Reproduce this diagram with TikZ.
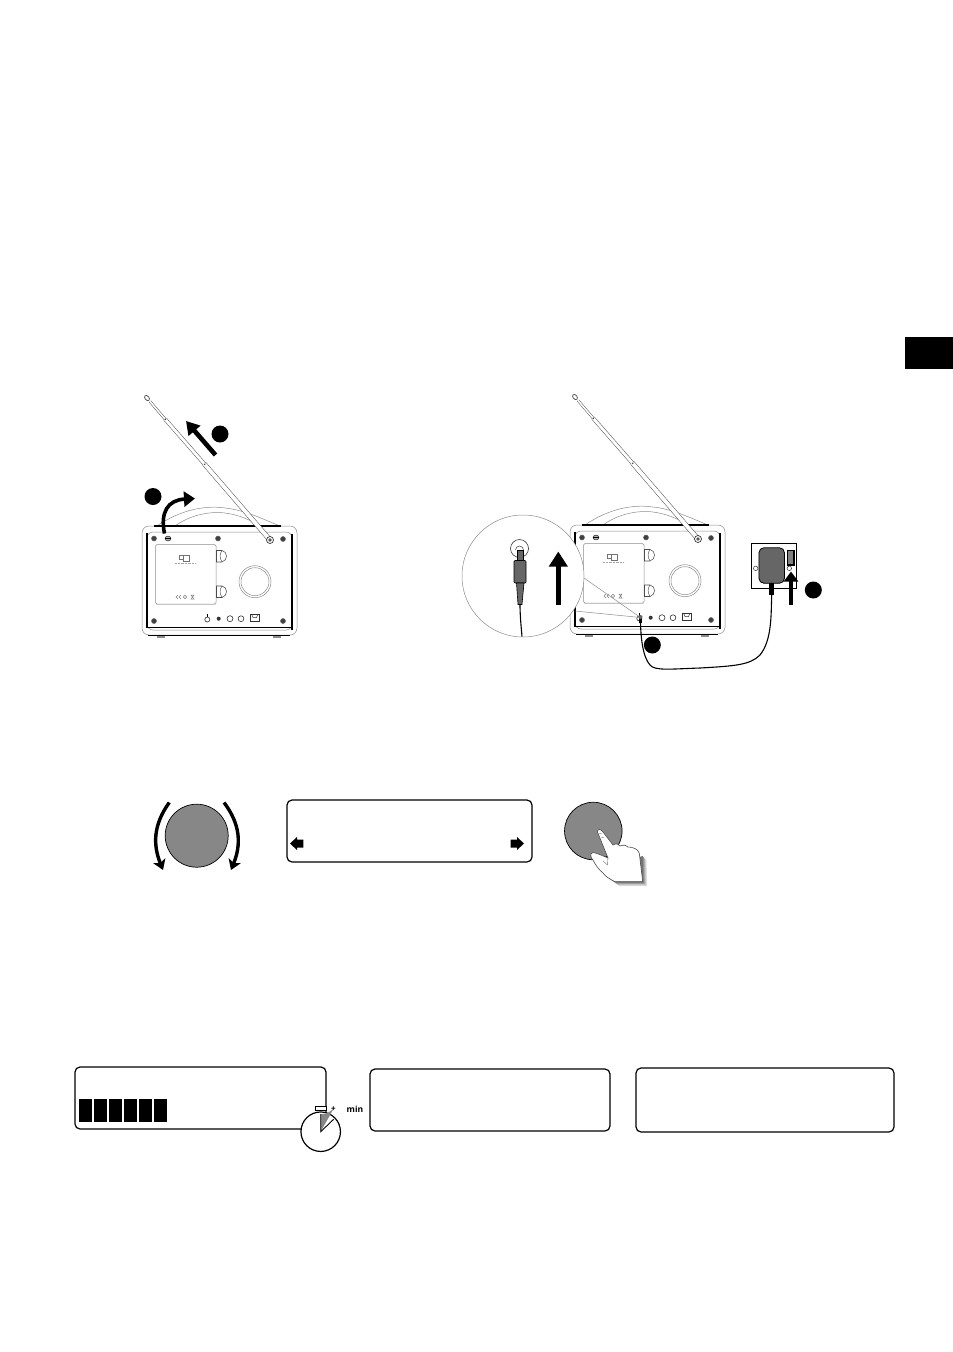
\documentclass[tikz,border=0pt]{standalone}
\usepackage{fontspec}
\setmainfont{Open Sans}
\usetikzlibrary{arrows.meta}
\definecolor{dialgray}{gray}{0.53}
\definecolor{linegray}{gray}{0.55}
\tikzset{
  radioline/.style={draw=linegray,line width=0.5pt},
  blackline/.style={draw=black,line width=1.05pt},
  screw/.style={circle,draw=black!60,fill=black!75,line width=0.5pt,minimum size=5pt,inner sep=0pt},
  ringscrew/.style={circle,draw=black!80,fill=white,line width=0.5pt,minimum size=5pt,inner sep=0pt},
  badge/.style={circle,fill=black,minimum size=17pt,inner sep=0pt},
  displaybox/.style={draw=black,line width=1.2pt,rounded corners=5pt,fill=white,inner sep=0pt},
  dial/.style={circle,draw=black,line width=0.7pt,fill=dialgray,inner sep=0pt},
  bigarrow/.style={line width=4.6pt,-{Triangle[width=15pt,length=13pt]}},
  turnarrow/.style={line width=3.4pt,-{Stealth[width=13pt,length=10pt,inset=2.5pt]}},
  levelbar/.style={fill=black,minimum width=13pt,minimum height=23.5pt,inner sep=0pt},
}
\newcommand{\antennaseg}[3]{\draw[black!70,line width=#3pt] (#1) -- (#2);\draw[white,line width=#3pt-1pt] (#1) -- (#2);}
% #1: horizontal offset of the bottom row of sockets, #2: of the knob
\newcommand{\radioback}[2]{%
  % handle
  \draw[radioline] (157,526) .. controls (180,510) and (205,505) .. (225,508) .. controls (245,510) and (265,520) .. (280,526);
  \draw[radioline] (175,526) .. controls (190,515) and (210,511) .. (225,513) .. controls (240,515) and (250,520) .. (260,526);
  % body
  \fill[white] (142,526) rectangle (297,635);
  \draw[radioline,rounded corners=7pt] (142,526) rectangle (297,635);
  \draw[radioline,rounded corners=6pt] (147,532) rectangle (292,630);
  \draw[blackline] (154,526) -- (281,526);
  \draw[blackline] (148,635.5) -- (290,635.5);
  \draw[blackline] (147,533) -- (147,627.5) -- (292,627.5);
  \draw[blackline] (292,534) -- (292,630);
  \fill[black!45] (157,636) rectangle (165,638.3);
  \fill[black!45] (273,636) rectangle (281,638.3);
  % screws
  \foreach \p/\n in {154/a,218/b}{\node[screw] (scr\n) at (\p,538.5) {};}
  \node[screw] at (154,621) {};
  \node[screw] at (283,621) {};
  \node[screw] at (283,539) {};
  \draw[black!80,line width=0.6pt,fill=black!30] (168,538.5) ellipse (2.9pt and 2.4pt);
  \draw[black,line width=0.6pt] (165.3,538.5) -- (170.7,538.5);
  % panel
  \draw[black!12,line width=1.1pt] (156,604.8) -- (216,604.8);
  \draw[radioline,rounded corners=1.5pt,fill=white] (155.5,544.5) rectangle (216,604);
  % logo and marks on the panel
  \draw[black!55,line width=0.45pt] (179,555.5) rectangle (183,559.5);
  \draw[black!55,line width=0.45pt] (183,555) rectangle (189,561);
  \draw[black!35,line width=0.9pt,dash pattern=on 1pt off 0.4pt] (175,563.5) -- (196,563.5);
  \draw[black!50,line width=0.5pt] (178,595) -- (176,597) -- (178,599) (181,595) -- (179,597) -- (181,599);
  \draw[black!50,line width=0.5pt] (185,597) circle (1.8pt);
  \draw[black!50,line width=0.5pt] (191,595) -- (194,595) -- (191,599) -- (194,599) -- cycle;
  % side connectors
  \foreach \y in {550.5,586}{%
    \draw[black!70,line width=0.55pt,fill=white] (216.5,\y) -- (222,\y) .. controls (228,\y+1) and (228,\y+10) .. (222,\y+11.5) -- (216.5,\y+11.5) -- cycle;
    \draw[black!70,line width=0.45pt] (222,\y) .. controls (219.5,\y+3) and (219.5,\y+8) .. (222,\y+11.5);
  }
  % knob
  \draw[radioline] (255+#2,581.7) circle (16pt);
  \draw[radioline] (255+#2,581.7) circle (14pt);
  % bottom row
  \begin{scope}[xshift=#1pt]
  \draw[black!80,line width=0.6pt] (207.3,619.5) circle (2.5pt);
  \draw[black,line width=1pt] (207.3,614) -- (207.3,617);
  \fill[black!80] (218.7,618.7) circle (2pt);
  \draw[black!80,line width=0.6pt] (230,618.7) circle (3pt);
  \draw[black!80,line width=0.6pt] (241,618.7) circle (2.9pt);
  \draw[black!80,line width=0.6pt] (250,614) rectangle (259.5,621);
  \draw[black!80,line width=0.5pt] (251.5,614) -- (253,617.5) -- (256.5,617.5) -- (258,614);
  \end{scope}
  % antenna
  \antennaseg{270,540}{204.4,464}{4.8}
  \antennaseg{204.4,464}{165,419}{3.8}
  \antennaseg{165,419}{150,401.5}{2.6}
  \draw[black!75,line width=1pt] (204.4,464) -- +(0.7,0.8);
  \draw[black!75,line width=1pt] (165,419) -- +(0.7,0.8);
  \draw[black!70,line width=0.7pt,fill=white,rotate around={-50:(147,398)}] (147,398) ellipse (3pt and 2pt);
  \node[circle,draw=black!80,fill=white,line width=0.7pt,minimum size=7pt,inner sep=0pt] at (270,540) {};
  \fill[black!65] (270,540) circle (1.8pt);
}
\begin{document}
\begin{tikzpicture}[x=1pt,y=-1pt]
\useasboundingbox (0,0) rectangle (953,1352);
\fill[black] (905,337) rectangle (953,369);

% left radio
\radioback{0}{0}
\coordinate (arrowAtail) at (215.5,455);
\coordinate (arrowAtip) at (186,421);
\draw[bigarrow] (arrowAtail) -- (arrowAtip);
\coordinate (latch) at (164.5,533.5);
\coordinate (latchtip) at (195,498.5);
\draw[line width=3.6pt,-{Triangle[width=15pt,length=11pt]}] (latch) .. controls (160,512) and (168,500) .. (latchtip);
\node[badge] (n2) at (220,434) {};
\node[badge] (n1) at (153,496.5) {};

% right radio
\begin{scope}[shift={(428,-1)}]
\radioback{4}{2}
\end{scope}

% magnifier
\coordinate (socket) at (640.5,617.5);
\draw[radioline] (584,578) -- (socket);
\draw[radioline] (575,611) -- (socket);
\node[circle,draw=linegray,fill=white,line width=0.5pt,minimum size=122pt,inner sep=0pt] (lens) at (523,576) {};
\draw[black!80,line width=0.6pt] (519.5,548.5) circle (9pt);
\draw[black!80,line width=0.5pt] (515.5,550) arc[start angle=180,end angle=0,radius=4pt];
\draw[black,line width=0.5pt,fill=black!60] (517.3,550) rectangle (523.3,560.5);
\draw[black,line width=0.7pt,fill=black!60,rounded corners=1pt] (514,560.5) rectangle (526,583);
\draw[black,line width=0.6pt,fill=black!60] (516.5,583) -- (524,583) -- (522,604.5) -- (518,604.5) -- cycle;
\draw[black,line width=1.1pt] (520,604.5) .. controls (520,615) and (521,625) .. (522,636.5);
\coordinate (magtail) at (558.3,604.5);
\coordinate (magtip) at (558.3,551.5);
\draw[line width=5pt,-{Triangle[width=18pt,length=15pt]}] (magtail) -- (magtip);

% wall socket and adapter
\node[draw=black,line width=1pt,fill=white,minimum width=45pt,minimum height=45pt,inner sep=0pt] (outlet) at (774.2,565.8) {};
\node[draw=black,line width=0.8pt,fill=black!60,rounded corners=5pt,minimum width=25.5pt,minimum height=35.5pt,inner sep=0pt] (adapter) at (771.7,565.5) {};
\node[draw=black,line width=1.2pt,fill=black!50,minimum width=6.5pt,minimum height=14.5pt,inner sep=0pt] (switch) at (790.7,557.8) {};
\node[ringscrew,minimum size=4.5pt] (sc1) at (755.7,568.3) {};
\node[ringscrew,minimum size=4.5pt] (sc2) at (789.3,568.3) {};
\node[fill=black,minimum width=4.6pt,minimum height=12pt,inner sep=0pt] (stem) at (771.7,589) {};
\coordinate (radioplug) at (640.5,623);
\draw[black,line width=3pt] (socket) -- (radioplug);
\fill[black!60] (640.5,617) circle (2pt);
\draw[black,line width=1.1pt] (radioplug) .. controls (641,640) and (643,657) .. (650,665) .. controls (655,671) and (670,669) .. (700,668) .. controls (735,666) and (750,665) .. (760,655) .. controls (772,640) and (771,615) .. (stem.south);
\coordinate (outtail) at (791,605);
\coordinate (outtip) at (791,571.5);
\draw[line width=4.4pt,-{Triangle[width=14pt,length=10pt]}] (outtail) -- (outtip);
\node[badge] (n3) at (813.3,590) {};
\node[badge] (n4) at (652.3,645) {};

% tuning row
\node[dial,minimum size=63pt] (dialA) at (196.7,835.7) {};
\coordinate (tlA) at (169.3,802.5);
\coordinate (tlB) at (163,870);
\coordinate (trA) at (224,802.5);
\coordinate (trB) at (231,870);
\draw[turnarrow] (tlA) .. controls (153,825) and (153,845) .. (tlB);
\draw[turnarrow] (trA) .. controls (241,825) and (241,845) .. (trB);
\node[displaybox,minimum width=245pt,minimum height=62pt] (dispA) at (409.5,831) {};
\fill[black] (290,843.5) -- (297,837) -- (297,839.5) -- (303.3,839.5) -- (303.3,847.5) -- (297,847.5) -- (297,850) -- cycle;
\fill[black] (524,843.5) -- (517,837) -- (517,839.5) -- (510.7,839.5) -- (510.7,847.5) -- (517,847.5) -- (517,850) -- cycle;
\node[dial,minimum size=57.5pt] (dialB) at (593.3,831) {};
% hand shadow
\foreach \d/\g in {4.5/12,3.6/20,2.7/30,1.8/42,0.9/55}{%
  \fill[black!\g,shift={(\d,\d)}] (642,855) -- (642.7,881.7) -- (615,881.7) -- (603.3,873.3) -- (600,868) -- cycle;
}
\draw[black!70,line width=0.6pt,fill=white,line join=round]
  (597.3,831.5) .. controls (598,828.5) and (601,829) .. (603,832)
  -- (613,845) .. controls (616,843) and (619,844) .. (620,846)
  .. controls (624,844.5) and (627,845) .. (628,847)
  .. controls (633,847) and (638,849) .. (639.3,853.3)
  -- (642.7,881.7) -- (615,881.7)
  .. controls (608,878) and (605,876) .. (603,873)
  .. controls (598,869) and (595,864) .. (593,860)
  .. controls (590,857) and (590,853) .. (593,852.5)
  .. controls (597,853) and (603,856) .. (608,858)
  -- (597.3,831.5) -- cycle;
\draw[black!55,line width=0.4pt] (608,857) -- (607.5,865) -- (603,861);
\draw[black!50,line width=0.35pt] (599,834) -- (602,833) (601,838) -- (604,837);

% timer row
\node[displaybox,minimum width=251pt,minimum height=62pt] (dispB) at (200.5,1098) {};
\foreach \i in {0,...,5}{%
  \node[levelbar] (bar\i) at (85.8+14.94*\i,1110.7) {};
}
\node[circle,draw=black,line width=1.2pt,fill=white,minimum size=39.5pt,inner sep=0pt] (watch) at (320.7,1131.7) {};
\node[draw=black,line width=1pt,fill=white,minimum width=11pt,minimum height=4pt,inner sep=0pt] (crown) at (320.5,1108.8) {};
\fill[dialgray] (watch.center) -- (320.7,1114.2) arc[start angle=-90,end angle=-42,radius=17.5pt] -- cycle;
\draw[black,line width=0.9pt] (320.7,1114.2) -- (watch.center) -- (333.7,1119.2);
\node[font=\fontsize{8}{8}\selectfont\bfseries,inner sep=0pt] (plus) at (333.5,1108.8) {+};
\node[font=\fontsize{8.5}{8.5}\selectfont\bfseries,inner sep=0pt] (minlabel) at (355,1108.8) {min};
\node[displaybox,minimum width=240pt,minimum height=62pt] (dispC) at (490,1100) {};
\node[displaybox,minimum width=258pt,minimum height=64pt] (dispD) at (765,1100) {};
\end{tikzpicture}
\end{document}
